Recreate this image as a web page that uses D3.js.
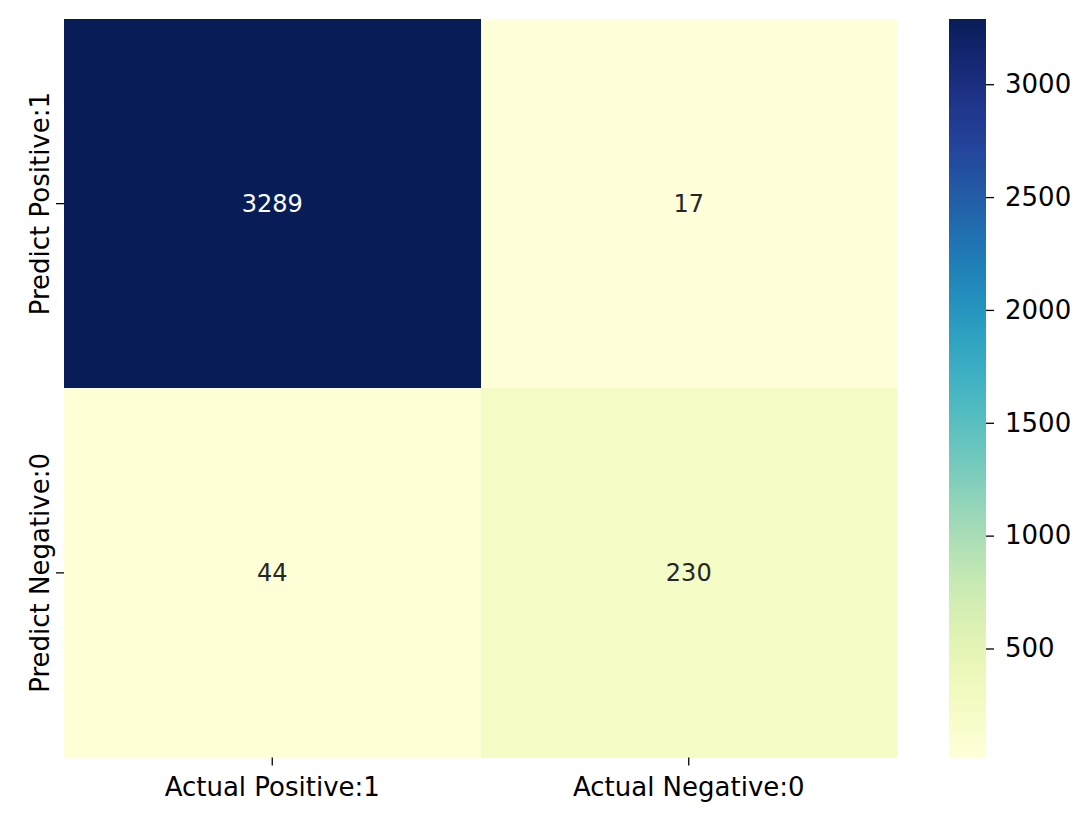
<!DOCTYPE html>
<html><head><meta charset="utf-8">
<script src="https://cdn.jsdelivr.net/npm/d3@7"></script>
<style>
html,body{margin:0;padding:0;background:#fff;}
text{font-family:"DejaVu Sans",sans-serif;}
</style></head>
<body>
<svg id="chart" width="1091" height="822"></svg>
<script>
const rowLabels = ["Predict Positive:1", "Predict Negative:0"];
const colLabels = ["Actual Positive:1", "Actual Negative:0"];
const values = [[3289, 17], [44, 230]];
const colorbarTicks = [500, 1000, 1500, 2000, 2500, 3000];

(function () {
const svg = d3.select("#chart");
const fs = 24;      // annotation size
const tfs = 26;     // tick label size
const mLeft = 64, mTop = 19, mRight = 897, mBottom = 757.5;
const cbLeft = 949, cbRight = 986;

const flat = values.flat();
const vmin = d3.min(flat), vmax = d3.max(flat);
const color = d3.scaleSequential(d3.interpolateYlGnBu).domain([vmin, vmax]);

const x = d3.scaleBand().domain(colLabels).range([mLeft, mRight]);
const y = d3.scaleBand().domain(rowLabels).range([mTop, mBottom]);

const cells = [];
rowLabels.forEach((r, i) => colLabels.forEach((c, j) => cells.push({r, c, v: values[i][j]})));

svg.append("g").selectAll("rect").data(cells).join("rect")
  .attr("x", d => x(d.c)).attr("y", d => y(d.r))
  .attr("width", x.bandwidth()).attr("height", y.bandwidth())
  .attr("fill", d => color(d.v)).attr("shape-rendering", "crispEdges");

svg.append("g").selectAll("text").data(cells).join("text")
  .attr("x", d => x(d.c) + x.bandwidth() / 2)
  .attr("y", d => y(d.r) + y.bandwidth() / 2)
  .attr("text-anchor", "middle").attr("dy", "0.33em")
  .attr("font-size", fs)
  .attr("fill", d => d3.hsl(color(d.v)).l < 0.5 ? "#ffffff" : "#262626")
  .text(d => d.v);

// x axis
const xAxis = svg.append("g").attr("transform", `translate(0,${mBottom})`)
  .call(d3.axisBottom(x).tickSize(8).tickPadding(8));
xAxis.select(".domain").remove();
xAxis.selectAll("line").attr("stroke", "#000").attr("stroke-width", 1.3);
xAxis.selectAll("text").attr("font-size", tfs).attr("font-family", "DejaVu Sans").attr("fill", "#000").attr("dy", "0.88em");

// y axis
const yAxis = svg.append("g").attr("transform", `translate(${mLeft},0)`)
  .call(d3.axisLeft(y).tickSize(8).tickPadding(8));
yAxis.select(".domain").remove();
yAxis.selectAll("line").attr("stroke", "#000").attr("stroke-width", 1.3);
yAxis.selectAll("text").attr("font-size", tfs).attr("font-family", "DejaVu Sans").attr("fill", "#000")
  .attr("text-anchor", "middle").attr("dy", null).attr("x", null)
  .attr("transform", "translate(-15,0) rotate(-90)");

// colorbar
const cy = d3.scaleLinear().domain([vmin, vmax]).range([mBottom, mTop]);
const defs = svg.append("defs");
const grad = defs.append("linearGradient").attr("id", "cbgrad")
  .attr("x1", 0).attr("y1", 1).attr("x2", 0).attr("y2", 0);
d3.range(0, 1.0001, 0.02).forEach(t => {
  grad.append("stop").attr("offset", t).attr("stop-color", d3.interpolateYlGnBu(t));
});
svg.append("rect").attr("x", cbLeft).attr("y", mTop).attr("width", cbRight - cbLeft)
  .attr("height", mBottom - mTop).attr("fill", "url(#cbgrad)");

const cAxis = svg.append("g").attr("transform", `translate(${cbRight},0)`)
  .call(d3.axisRight(cy).tickValues(colorbarTicks).tickSize(8).tickPadding(11).tickFormat(d3.format("d")));
cAxis.select(".domain").remove();
cAxis.selectAll("line").attr("stroke", "#000").attr("stroke-width", 1.3);
cAxis.selectAll("text").attr("font-size", tfs).attr("font-family", "DejaVu Sans").attr("fill", "#000");
})();
</script>
</body></html>
